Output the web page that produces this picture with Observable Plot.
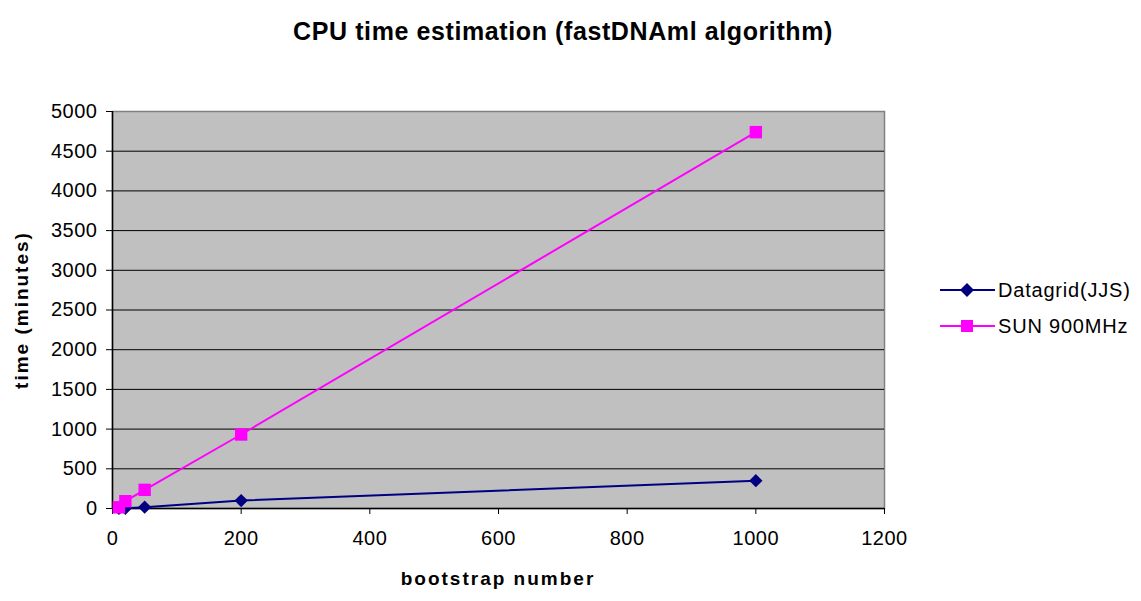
<!DOCTYPE html>
<html><head><meta charset="utf-8">
<script src="https://cdn.jsdelivr.net/npm/d3@7"></script>
<script src="https://cdn.jsdelivr.net/npm/@observablehq/plot@0.6"></script>
<style>
body{margin:0;background:#fff;font-family:Arial,"Liberation Sans",sans-serif;}
#wrap{position:relative;width:1141px;height:601px;overflow:hidden;}
.t{position:absolute;font-weight:bold;color:#000;white-space:nowrap;}
#legend{position:absolute;left:938px;top:272px;font-size:20px;letter-spacing:0.8px;}
#legend div{display:flex;align-items:center;height:36px;}
</style></head>
<body><div id="wrap"></div>
<script>
const titleText = "CPU time estimation (fastDNAml algorithm)";
const xLabel = "bootstrap number";
const yLabel = "time (minutes)";
const seriesNames = ["Datagrid(JJS)", "SUN 900MHz"];
const seriesColors = ["#000080", "#FF00FF"];
const bootstrap = [10, 20, 50, 200, 1000];
const datagrid = [1, 3, 17, 100, 350];
const sun = [15, 92, 235, 932, 4740];
const xTicks = [0, 200, 400, 600, 800, 1000, 1200];
const yTicks = [0, 500, 1000, 1500, 2000, 2500, 3000, 3500, 4000, 4500, 5000];

const rows = [];
bootstrap.forEach((b, i) => {
  rows.push({series: seriesNames[0], x: b, y: datagrid[i]});
  rows.push({series: seriesNames[1], x: b, y: sun[i]});
});
const dg = rows.filter(d => d.series === seriesNames[0]);
const sn = rows.filter(d => d.series === seriesNames[1]);

const W = 1141, H = 601, L = 112, R = 884, T = 111, B = 508;
const fmt = d => String(d);
const chart = Plot.plot({
  width: W, height: H,
  marginLeft: L, marginRight: W - R, marginTop: T, marginBottom: H - B,
  style: {fontFamily: "Arial, 'Liberation Sans', sans-serif", fontSize: "20px", color: "#000", background: "#fff", letterSpacing: "0.5px"},
  x: {domain: [0, 1200], ticks: xTicks, label: null},
  y: {domain: [0, 5000], ticks: yTicks, label: null},
  marks: [
    Plot.frame({fill: "#C0C0C0", stroke: "#808080", strokeWidth: 1.5}),
    Plot.gridY(yTicks.slice(1, -1), {stroke: "#000", strokeOpacity: 1, strokeWidth: 1}),
    Plot.ruleY([0], {stroke: "#000", strokeWidth: 1.5}),
    Plot.ruleX([0], {stroke: "#000", strokeWidth: 1.5}),
    Plot.axisX(xTicks, {tickSize: 6, tickPadding: 16, fontSize: 20, tickFormat: fmt}),
    Plot.axisY(yTicks, {tickSize: 6, tickPadding: 9, fontSize: 20, tickFormat: fmt}),
    Plot.line(dg, {x: "x", y: "y", stroke: seriesColors[0], strokeWidth: 2}),
    Plot.line(sn, {x: "x", y: "y", stroke: seriesColors[1], strokeWidth: 2}),
    Plot.dot(dg, {x: "x", y: "y", symbol: "diamond2", r: 6, fill: seriesColors[0], stroke: "none"}),
    Plot.dot(sn, {x: "x", y: "y", symbol: "square", r: 7, fill: seriesColors[1], stroke: "none"})
  ]
});
const wrap = document.getElementById("wrap");
wrap.appendChild(chart);

function addText(txt, css) {
  const d = document.createElement("div");
  d.className = "t"; d.textContent = txt;
  Object.assign(d.style, css);
  wrap.appendChild(d);
  return d;
}
addText(titleText, {fontSize: "25px", letterSpacing: "0.6px", left: (563 - 400) + "px", width: "800px", textAlign: "center", top: "17px"});
addText(xLabel, {fontSize: "19px", letterSpacing: "2px", left: (L + R) / 2 - 200 + "px", width: "400px", textAlign: "center", top: "568px"});
addText(yLabel, {fontSize: "19px", letterSpacing: "2px", left: (22 - 200) + "px", width: "400px", textAlign: "center", top: ((T + B) / 2 - 11) + "px", transform: "rotate(-90deg)"});

const legend = document.createElement("div");
legend.id = "legend";
seriesNames.forEach((name, i) => {
  const row = document.createElement("div");
  const sym = i === 0
    ? `<path d="M29,12 L36,19 L29,26 L22,19 Z" fill="${seriesColors[i]}"/>`
    : `<rect x="23" y="13" width="12" height="12" fill="${seriesColors[i]}"/>`;
  row.innerHTML = `<svg width="60" height="38"><line x1="2" x2="57" y1="19" y2="19" stroke="${seriesColors[i]}" stroke-width="2"/>${sym}</svg><span>${name}</span>`;
  legend.appendChild(row);
});
wrap.appendChild(legend);
</script>
</body></html>
